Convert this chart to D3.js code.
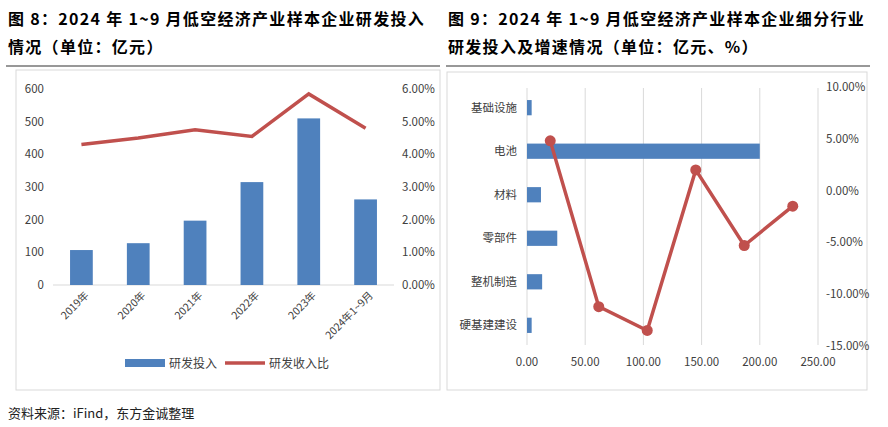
<!DOCTYPE html><html><head><meta charset="utf-8">
<script src="https://cdn.jsdelivr.net/npm/d3@7"></script>
<style>body{margin:0;background:#fff}svg{font-family:"Noto Sans CJK SC",sans-serif}</style></head><body>
<svg id="c" width="888" height="427"></svg>
<script>
const years=["2019年","2020年","2021年","2022年","2023年","2024年1~9月"];
const rdInvest=[107,128,197,315,510,262];
const rdRatio=[4.3,4.5,4.75,4.55,5.85,4.8];
const leftTicks=[0,100,200,300,400,500,600];
const ratioTicks=[0,1,2,3,4,5,6];
const sectors=["基础设施","电池","材料","零部件","整机制造","硬基建建设"];
const sectorInvest=[4,200,12,26,13,4];
const sectorGrowth=[4.8,-11.2,-13.5,2.0,-5.3,-1.5];
const xTicks=[0,50,100,150,200,250];
const growthTicks=[10,5,0,-5,-10,-15];
const blue="#4f81bd",red="#c0504d";
const svg=d3.select("#c");
// titles
const t=svg.append("g").attr("font-weight","bold").attr("font-size",16).attr("letter-spacing",1.3).attr("fill","#000");
t.append("text").attr("x",8).attr("y",25).text("图 8：2024 年 1~9 月低空经济产业样本企业研发投入");
t.append("text").attr("x",8).attr("y",53).text("情况（单位：亿元）");
t.append("text").attr("x",448).attr("y",25).text("图 9：2024 年 1~9 月低空经济产业样本企业细分行业");
t.append("text").attr("x",448).attr("y",53).text("研发投入及增速情况（单位：亿元、%）");
svg.append("line").attr("x1",6).attr("x2",440).attr("y1",66).attr("y2",66).attr("stroke","#333").attr("stroke-width",1.2);
svg.append("line").attr("x1",446).attr("x2",870).attr("y1",66).attr("y2",66).attr("stroke","#333").attr("stroke-width",1.2);
svg.append("rect").attr("x",16).attr("y",70).attr("width",424).attr("height",320).attr("fill","none").attr("stroke","#d9d9d9");
svg.append("rect").attr("x",447).attr("y",72).attr("width",420).attr("height",318).attr("fill","none").attr("stroke","#d9d9d9");
svg.append("text").attr("x",8).attr("y",418).attr("font-size",13).attr("fill","#222").text("资料来源：iFind，东方金诚整理");
const tk=11.5,tc="#404040";
// left chart
const x=d3.scaleBand().domain(years).range([53,394]).paddingInner(0.6).paddingOuter(0.3);
const y=d3.scaleLinear().domain([0,600]).range([285,89]);
const y2=d3.scaleLinear().domain([0,6]).range([285,89]);
const L=svg.append("g");
L.append("line").attr("x1",53).attr("x2",394).attr("y1",y(0)).attr("y2",y(0)).attr("stroke","#d9d9d9");
L.selectAll(".b").data(years).join("rect").attr("x",d=>x(d)).attr("width",x.bandwidth()).attr("y",(d,i)=>y(rdInvest[i])).attr("height",(d,i)=>y(0)-y(rdInvest[i])).attr("fill",blue);
L.append("path").datum(rdRatio).attr("fill","none").attr("stroke",red).attr("stroke-width",3.5)
 .attr("d",d3.line().x((d,i)=>x(years[i])+x.bandwidth()/2).y(d=>y2(d)));
L.selectAll(".yl").data(leftTicks).join("text").attr("x",44).attr("y",d=>y(d)+4).attr("text-anchor","end").attr("font-size",tk).attr("fill",tc).text(d=>d);
L.selectAll(".yr").data(ratioTicks).join("text").attr("x",402).attr("y",d=>y2(d)+4).attr("font-size",tk).attr("fill",tc).text(d=>d.toFixed(2)+"%");
L.selectAll(".xl").data(years).join("text").attr("font-size",10.5).attr("fill",tc).attr("text-anchor","end")
 .attr("transform",d=>`translate(${x(d)+x.bandwidth()/2+8},${296}) rotate(-45)`).text(d=>d);
L.append("rect").attr("x",125).attr("y",359).attr("width",40).attr("height",8).attr("fill",blue);
L.append("text").attr("x",169).attr("y",368).attr("font-size",12).attr("fill",tc).text("研发投入");
L.append("line").attr("x1",225).attr("x2",265).attr("y1",363).attr("y2",363).attr("stroke",red).attr("stroke-width",3.5);
L.append("text").attr("x",269).attr("y",368).attr("font-size",12).attr("fill",tc).text("研发收入比");
// right chart
const R=svg.append("g");
const rx=d3.scaleLinear().domain([0,250]).range([527,818]);
const ry=d3.scaleBand().domain(sectors).range([87,346]).paddingInner(0.65).paddingOuter(0.3);
const rcx=d3.scaleBand().domain(sectors).range([526,817]);
const gy=d3.scaleLinear().domain([-15,10]).range([346,87]);
R.selectAll(".g").data(xTicks).join("line").attr("x1",d=>rx(d)).attr("x2",d=>rx(d)).attr("y1",88).attr("y2",345).attr("stroke","#d9d9d9");
R.selectAll(".b").data(sectors).join("rect").attr("x",rx(0)).attr("y",d=>ry(d)).attr("height",ry.bandwidth()).attr("width",(d,i)=>rx(sectorInvest[i])-rx(0)).attr("fill",blue);
R.append("path").datum(sectorGrowth).attr("fill","none").attr("stroke",red).attr("stroke-width",3.5)
 .attr("d",d3.line().x((d,i)=>rcx(sectors[i])+rcx.bandwidth()/2).y(d=>gy(d)));
R.selectAll(".m").data(sectorGrowth).join("circle").attr("cx",(d,i)=>rcx(sectors[i])+rcx.bandwidth()/2).attr("cy",d=>gy(d)).attr("r",5.5).attr("fill",red);
R.selectAll(".yl").data(sectors).join("text").attr("x",517).attr("y",d=>ry(d)+ry.bandwidth()/2+4).attr("text-anchor","end").attr("font-size",11.5).attr("fill",tc).text(d=>d);
R.selectAll(".xl").data(xTicks).join("text").attr("x",d=>rx(d)).attr("y",366).attr("text-anchor","middle").attr("font-size",tk).attr("fill",tc).text(d=>d.toFixed(2));
R.selectAll(".yr").data(growthTicks).join("text").attr("x",826).attr("y",d=>gy(d)+4).attr("font-size",tk).attr("fill",tc).text(d=>d.toFixed(2)+"%");
</script></body></html>
